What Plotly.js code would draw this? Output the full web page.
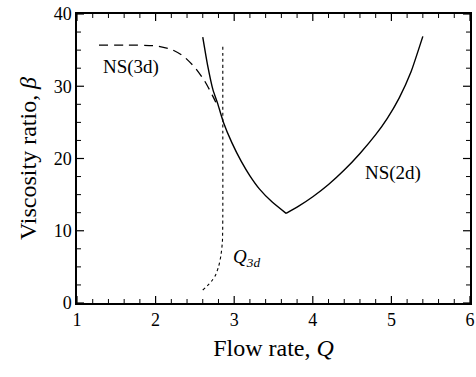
<!DOCTYPE html>
<html>
<head>
<meta charset="utf-8">
<script src="https://cdn.plot.ly/plotly-3.0.1.min.js"></script>
<style>html,body{margin:0;padding:0;background:#fff;}#chart{width:476px;height:377px;}</style>
</head>
<body>
<div id="chart"></div>
<script>
// NS(2d): solid curve, left and right branches meeting at a sharp minimum
const ns2dLeftQ = [2.60, 2.66, 2.73, 2.79, 2.86, 2.97, 3.09, 3.20, 3.32, 3.48, 3.66];
const ns2dLeftB = [36.8, 33.0, 29.5, 27.6, 25.1, 22.2, 19.6, 17.6, 15.8, 14.0, 12.4];
const ns2dRightQ = [3.66, 3.82, 4.00, 4.20, 4.40, 4.60, 4.80, 4.95, 5.10, 5.25, 5.40];
const ns2dRightB = [12.4, 13.4, 14.7, 16.4, 18.4, 20.7, 23.3, 25.6, 28.4, 32.0, 36.9];
// NS(3d): dashed curve
const ns3dQ = [1.28, 1.60, 2.00, 2.20, 2.35, 2.50, 2.62, 2.72, 2.80];
const ns3dB = [35.7, 35.7, 35.6, 35.1, 34.2, 32.6, 30.8, 28.8, 27.0];
// Q_3d: dotted curve
const q3dQ = [2.60, 2.66, 2.71, 2.76, 2.80, 2.83, 2.85, 2.855, 2.855, 2.855];
const q3dB = [1.8, 2.4, 3.0, 3.8, 5.0, 6.5, 8.5, 12.0, 25.0, 35.6];
// curve labels
const labelText = ["NS(3d)", "NS(2d)", "<i>Q</i><sub><i>3d</i></sub>"];
const labelQ = [1.69, 5.02, 3.16];
const labelB = [32.7, 18.0, 6.2];
// tick positions
const qMajorTicks = [1, 2, 3, 4, 5, 6];
const qMinorTicks = [1.2, 1.4, 1.6, 1.8, 2.2, 2.4, 2.6, 2.8, 3.2, 3.4, 3.6, 3.8, 4.2, 4.4, 4.6, 4.8, 5.2, 5.4, 5.6, 5.8];
const bMajorTicks = [0, 10, 20, 30, 40];
const bMinorTicks = [2.5, 5, 7.5, 12.5, 15, 17.5, 22.5, 25, 27.5, 32.5, 35, 37.5];
const qRange = [1, 6], bRange = [0, 40];

const font = "Liberation Serif";
const W = 476, H = 377, M = {l: 77, r: 6, t: 14, b: 74};
const plotW = W - M.l - M.r, plotH = H - M.t - M.b;
// pixel length -> data length along each axis
const qPerPx = (qRange[1] - qRange[0]) / plotW;
const bPerPx = (bRange[1] - bRange[0]) / plotH;

const solid = {color: "#000", width: 1.4, shape: "spline", smoothing: 0.5};
const traces = [
  {x: ns2dLeftQ, y: ns2dLeftB, mode: "lines", line: solid, hoverinfo: "skip"},
  {x: ns2dRightQ, y: ns2dRightB, mode: "lines", line: solid, hoverinfo: "skip"},
  {x: ns3dQ, y: ns3dB, mode: "lines", line: {color: "#000", width: 1.3, dash: "9px,6px", shape: "spline", smoothing: 0.6}, hoverinfo: "skip"},
  {x: q3dQ, y: q3dB, mode: "lines", line: {color: "#000", width: 1.1, dash: "dot", shape: "spline", smoothing: 0.6}, hoverinfo: "skip"}
];

// inside tick marks on all four frame edges, as short segments built from the tick positions
function tickSegments(qTicks, bTicks, lenPx, width) {
  const xs = [], ys = [];
  const dq = lenPx * qPerPx, db = lenPx * bPerPx;
  qTicks.forEach(q => {
    xs.push(q, q, null, q, q, null);
    ys.push(bRange[0], bRange[0] + db, null, bRange[1], bRange[1] - db, null);
  });
  bTicks.forEach(b => {
    xs.push(qRange[0], qRange[0] + dq, null, qRange[1], qRange[1] - dq, null);
    ys.push(b, b, null, b, b, null);
  });
  return {x: xs, y: ys, mode: "lines", line: {color: "#000", width: width}, hoverinfo: "skip", connectgaps: false};
}
traces.push(tickSegments(qMajorTicks, bMajorTicks, 7, 1.2));
traces.push(tickSegments(qMinorTicks, bMinorTicks, 4, 1.0));

const annotations = labelText.map((t, i) => ({
  x: labelQ[i], y: labelB[i], xref: "x", yref: "y", text: t, showarrow: false,
  font: {family: font, size: 19, color: "#000"}
}));

const layout = {
  width: W, height: H,
  margin: M,
  paper_bgcolor: "#fff", plot_bgcolor: "#fff",
  showlegend: false,
  xaxis: {
    range: qRange, dtick: 1, tick0: 1,
    showgrid: false, zeroline: false, showline: true, linecolor: "#000", linewidth: 1.5,
    mirror: true, ticks: "", 
    tickfont: {family: font, size: 18, color: "#000"},
    title: {text: "Flow rate, <i>Q</i>", font: {family: font, size: 24, color: "#000"}, standoff: 10}
  },
  yaxis: {
    range: bRange, dtick: 10, tick0: 0,
    showgrid: false, zeroline: false, showline: true, linecolor: "#000", linewidth: 1.5,
    mirror: true, ticks: "",
    tickfont: {family: font, size: 18, color: "#000"},
    title: {text: "Viscosity ratio, <i>β</i>", font: {family: font, size: 24, color: "#000"}, standoff: 10}
  },
  annotations: annotations
};

Plotly.newPlot("chart", traces, layout, {displayModeBar: false});
</script>
</body>
</html>
